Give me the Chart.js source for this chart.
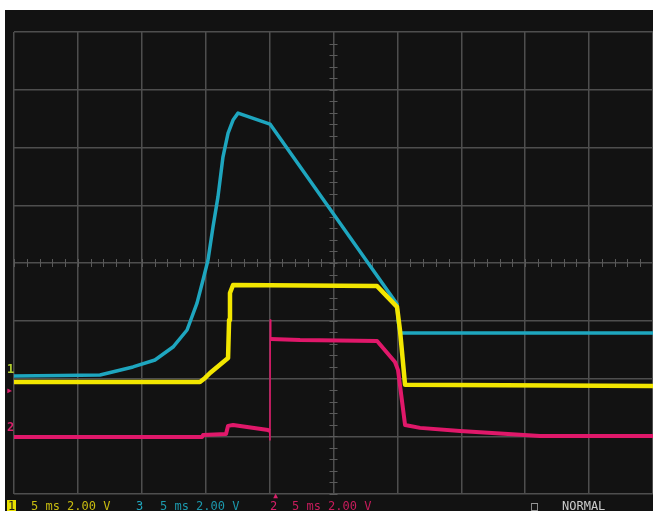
<!DOCTYPE html>
<html>
<head>
<meta charset="utf-8">
<script src="https://cdn.jsdelivr.net/npm/chart.js@4/dist/chart.umd.min.js"></script>
<style>
  body { margin: 0; background: #fff; width: 653px; height: 511px; overflow: hidden; position: relative; }
  #wrap { position: absolute; left: 5px; top: 10px; width: 648px; height: 501px; background: #121212; }
  .lbl { position: absolute; font-family: "DejaVu Sans Mono", monospace; font-size: 12px; line-height: 12px; white-space: pre; }
</style>
</head>
<body>
<div id="wrap"><canvas id="scope" width="648" height="501"></canvas></div>
<div id="labels"></div>
<script>
// time in ms (5 ms/div), values in screen volts (2 V/div, 0 = centre line)
const ch3Time = [0, 3.6, 6.73, 9.31, 11.03, 12.44, 13.54, 14.32, 14.79, 15.18, 15.57, 15.96, 16.35, 16.75, 17.14, 17.53, 20.03, 29.97, 30.05, 30.2, 50];
const ch3Volts = [-3.91, -3.9, -3.88, -3.6, -3.36, -2.91, -2.32, -1.39, -0.59, 0.1, 1.25, 2.29, 3.67, 4.5, 4.95, 5.19, 4.81, -1.42, -1.97, -2.42, -2.42];

const ch1Time = [0, 14.55, 14.95, 15.34, 16.75, 16.83, 16.9, 17.14, 28.41, 29.97, 30.2, 30.6, 50];
const ch1Volts = [-4.12, -4.12, -3.98, -3.81, -3.29, -1.97, -1.04, -0.76, -0.8, -1.52, -2.32, -4.22, -4.26];

const ch2Time = [0, 14.71, 14.79, 16.59, 16.75, 17.14, 19.88, 20.0, 20.03, 20.05, 20.09, 22.38, 28.41, 29.81, 30.05, 30.6, 31.77, 34.9, 41.16, 50];
const ch2Volts = [-6.03, -6.03, -5.96, -5.92, -5.64, -5.61, -5.78, -5.82, -6.13, -1.97, -2.63, -2.67, -2.7, -3.43, -3.71, -5.61, -5.71, -5.82, -5.99, -5.99];

const statusItems = [
  { text: "1", x: 7, color: "#1a1a1a", bg: "#e8e000" },
  { text: "5 ms 2.00 V", x: 31, color: "#c8bc10" },
  { text: "3", x: 136, color: "#20a8c0" },
  { text: "5 ms 2.00 V", x: 160, color: "#1c98ac" },
  { text: "2", x: 270, color: "#d8206a" },
  { text: "5 ms 2.00 V", x: 292, color: "#c81c5c" },
  { text: "□", x: 531, color: "#bbbbbb" },
  { text: "NORMAL", x: 562, color: "#cccccc" }
];

function toPoints(t, v) {
  return t.map((x, i) => ({ x: x, y: v[i] }));
}

const labels = document.getElementById("labels");
statusItems.forEach((item) => {
  const s = document.createElement("span");
  s.className = "lbl";
  s.textContent = item.text;
  s.style.left = item.x + "px";
  s.style.top = "500px";
  s.style.color = item.color;
  if (item.bg) { s.style.background = item.bg; s.style.padding = "0 1px"; }
  labels.appendChild(s);
});
[["1", 7, 363, "#b4d030"], ["▸", 6, 384, "#d8206a"], ["2", 7, 421, "#d8206a"], ["▴", 272, 489, "#d8206a"]].forEach((m) => {
  const s = document.createElement("span");
  s.className = "lbl";
  s.style.fontWeight = "bold";
  s.textContent = m[0];
  s.style.left = m[1] + "px";
  s.style.top = m[2] + "px";
  s.style.color = m[3];
  labels.appendChild(s);
});

const centreTicks = {
  id: "centreTicks",
  beforeDatasetsDraw(chart) {
    const ctx = chart.ctx;
    const xs = chart.scales.x;
    const ys = chart.scales.y;
    const cx = xs.getPixelForValue(25);
    const cy = ys.getPixelForValue(0);
    ctx.save();
    ctx.strokeStyle = "#5a5a5a";
    ctx.lineWidth = 1;
    ctx.beginPath();
    for (let t = 0; t <= 50; t += 1) {
      const px = Math.round(xs.getPixelForValue(t)) + 0.5;
      ctx.moveTo(px, cy - 4);
      ctx.lineTo(px, cy + 4);
    }
    for (let v = -8; v <= 8; v += 0.4) {
      const py = Math.round(ys.getPixelForValue(v)) + 0.5;
      ctx.moveTo(cx - 4, py);
      ctx.lineTo(cx + 4, py);
    }
    ctx.stroke();
    ctx.restore();
  }
};

const traceStyle = { pointRadius: 0, tension: 0, fill: false, borderJoinStyle: "round" };

new Chart(document.getElementById("scope"), {
  type: "line",
  data: {
    datasets: [
      Object.assign({
        label: "CH2", data: toPoints(ch2Time, ch2Volts), borderColor: "#e0186a", borderWidth: 4,
        segment: { borderWidth: (c) => (c.p0DataIndex >= 7 && c.p0DataIndex <= 9 ? 1.5 : 4) }
      }, traceStyle),
      Object.assign({ label: "CH1", data: toPoints(ch1Time, ch1Volts), borderColor: "#f2e600", borderWidth: 4.5 }, traceStyle),
      Object.assign({ label: "CH3", data: toPoints(ch3Time, ch3Volts), borderColor: "#1ea6bf", borderWidth: 3.5 }, traceStyle)
    ]
  },
  options: {
    responsive: false,
    animation: false,
    layout: { padding: { left: 9, top: 22, right: 0, bottom: 17 } },
    plugins: { legend: { display: false }, tooltip: { enabled: false } },
    scales: {
      x: {
        type: "linear", min: 0, max: 50,
        ticks: { display: false, stepSize: 5 },
        grid: { color: "#4e4e4e", lineWidth: 1.5, drawTicks: false },
        border: { display: false }
      },
      y: {
        type: "linear", min: -8, max: 8,
        ticks: { display: false, stepSize: 2 },
        grid: { color: "#4e4e4e", lineWidth: 1.5, drawTicks: false },
        border: { display: false }
      }
    }
  },
  plugins: [centreTicks]
});
</script>
</body>
</html>
